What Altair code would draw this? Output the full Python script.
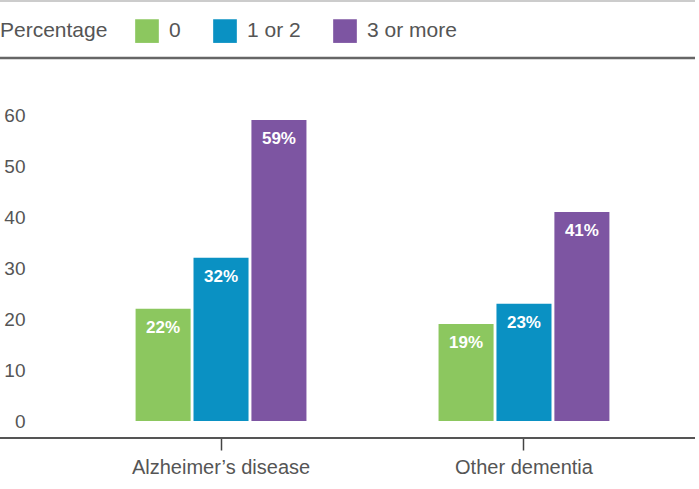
import altair as alt
import pandas as pd

# Share of people with dementia by number of co-occurring conditions
groups = ["Alzheimer\u2019s disease", "Other dementia"]
counts = ["0", "1 or 2", "3 or more"]
alz_values = [22, 32, 59]
other_values = [19, 23, 41]
y_ticks = [0, 10, 20, 30, 40, 50, 60]

colors = ["#8cc75f", "#0a91c3", "#7d55a2"]
font = "Liberation Sans"
text_color = "#555555"

rows = []
for g, vals in zip(groups, [alz_values, other_values]):
    for c, v in zip(counts, vals):
        rows.append({"group": g, "count": c, "value": v, "label": f"{v}%"})
df = pd.DataFrame(rows)

x_enc = alt.X(
    "group:N",
    sort=groups,
    title=None,
    scale=alt.Scale(paddingInner=0.436, paddingOuter=0.2825),
    axis=alt.Axis(
        domain=False,
        offset=17,
        tickSize=12,
        tickColor="#444444",
        tickWidth=1.5,
        labelAngle=0,
        labelFontSize=20,
        labelFont=font,
        labelColor=text_color,
        labelPadding=7,
    ),
)
xoff = alt.XOffset("count:N", sort=counts, scale=alt.Scale(paddingInner=0.05))
y_enc = alt.Y(
    "value:Q",
    title=None,
    scale=alt.Scale(domain=[0, 60], nice=False),
    axis=alt.Axis(
        values=y_ticks,
        grid=False,
        domain=False,
        ticks=False,
        labelPadding=25,
        labelFontSize=19,
        labelFont=font,
        labelColor=text_color,
    ),
)

bars = alt.Chart(df).mark_bar().encode(
    x=x_enc,
    xOffset=xoff,
    y=y_enc,
    color=alt.Color(
        "count:N",
        sort=counts,
        scale=alt.Scale(domain=counts, range=colors),
        legend=alt.Legend(
            title="Percentage",
            orient="none",
            legendX=-50,
            legendY=-96,
            direction="horizontal",
            titleOrient="left",
            titleFontSize=21,
            titleFontWeight="normal",
            titleFont=font,
            titleColor=text_color,
            titlePadding=27,
            labelFontSize=21,
            labelFont=font,
            labelColor=text_color,
            labelOffset=10,
            columnPadding=32,
            symbolType="square",
            symbolSize=560,
            symbolStrokeWidth=0,
        ),
    ),
)

labels = alt.Chart(df).mark_text(
    color="white",
    fontWeight="bold",
    fontSize=17,
    font=font,
    baseline="top",
    dy=11,
).encode(
    x=alt.X("group:N", sort=groups),
    xOffset=alt.XOffset("count:N", sort=counts),
    y="value:Q",
    text="label:N",
)

# Frame lines: light rule on top, dark rule under the legend, baseline rule
lines = pd.DataFrame({
    "name": ["top", "header", "base"],
    "ypx": [-114, -57, 323],
    "color": ["#cccccc", "#666666", "#555555"],
    "width": [2, 2.5, 2],
})

def frame_rule(name):
    r = lines[lines["name"] == name].iloc[0]
    return alt.Chart(pd.DataFrame({"n": [name]})).mark_rule(
        color=r["color"], strokeWidth=float(r["width"])
    ).encode(
        x=alt.value(-50),
        x2=alt.value(645),
        y=alt.value(float(r["ypx"])),
    )

chart = alt.layer(
    bars, labels, frame_rule("top"), frame_rule("header"), frame_rule("base")
).resolve_scale(x="shared").properties(
    width=645,
    height=306,
    autosize=alt.AutoSizeParams(type="none"),
    padding={"left": 50, "top": 115, "right": 4, "bottom": 68},
    background="white",
).configure_view(stroke=None)

chart.save("out.html", embed_options={"renderer": "svg", "actions": False})
